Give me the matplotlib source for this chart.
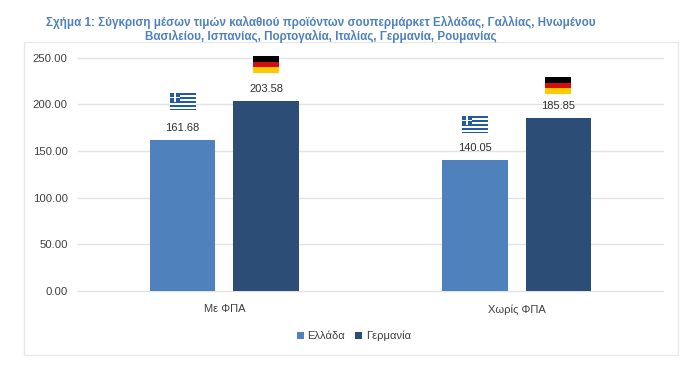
import matplotlib
matplotlib.use("Agg")
import matplotlib.pyplot as plt
import numpy as np
from matplotlib.offsetbox import AnnotationBbox, OffsetImage
from matplotlib.patches import Rectangle

plt.rcParams["font.family"] = ["Liberation Sans", "DejaVu Sans"]

categories = ["Με ΦΠΑ", "Χωρίς ΦΠΑ"]
greece = [161.68, 140.05]
germany = [203.58, 185.85]
series_names = ["Ελλάδα", "Γερμανία"]
y_ticks = [0, 50, 100, 150, 200, 250]
title = (
    "Σχήμα 1: Σύγκριση μέσων τιμών καλαθιού προϊόντων σουπερμάρκετ Ελλάδας, Γαλλίας, Ηνωμένου\n"
    "Βασιλείου, Ισπανίας, Πορτογαλία, Ιταλίας, Γερμανία, Ρουμανίας"
)


def greek_flag():
    blue = np.array([0.13, 0.36, 0.66])
    flag = np.ones((17, 26, 3))
    for row in range(17):
        if (row * 9 // 17) % 2 == 0:
            flag[row, :] = blue
    flag[:9, :10] = blue
    flag[4:5, :10] = 1
    flag[:9, 4:6] = 1
    return flag


def german_flag():
    flag = np.zeros((17, 26, 3))
    flag[6:11] = [0.85, 0.05, 0.05]
    flag[11:] = [1.0, 0.8, 0.0]
    return flag


def add_flag(ax, image, x, y, offset_px):
    box = OffsetImage(image, zoom=1, dpi_cor=False)
    flag = AnnotationBbox(
        box,
        (x, y),
        xybox=(0, offset_px * 72 / 100),
        xycoords="data",
        boxcoords="offset points",
        frameon=False,
        pad=0,
    )
    ax.add_artist(flag)


fig = plt.figure(figsize=(7, 3.72), dpi=100)
fig.patches.append(
    Rectangle(
        (24 / 700, 1 - 355 / 372),
        654 / 700,
        313 / 372,
        transform=fig.transFigure,
        facecolor="white",
        edgecolor="#e8e8e8",
        linewidth=1,
        zorder=-1,
    )
)
fig.text(321 / 700, 1 - 29.5 / 372, title, ha="center", va="center", color="#4f81bd",
         fontsize=8.33, fontweight="bold", linespacing=1.17)

ax = fig.add_axes([78 / 700, 1 - 291 / 372, 585 / 700, 233.3 / 372])
ax.patch.set_alpha(0)
x = np.arange(len(categories))
width = 0.224
offset = 0.1427
bars_gr = ax.bar(x - offset, greece, width, color="#4f81bd", label=series_names[0], zorder=3)
bars_de = ax.bar(x + offset, germany, width, color="#2c4d75", label=series_names[1], zorder=3)

for bars in (bars_gr, bars_de):
    ax.bar_label(bars, fmt="%.2f", padding=5, fontsize=8, color="#303030", zorder=4)

for xpos, val, shift in zip(x - offset, greece, [39, 35.5]):
    add_flag(ax, greek_flag(), xpos, val, shift)
for xpos, val, shift in zip(x + offset, germany, [37, 32.5]):
    add_flag(ax, german_flag(), xpos, val, shift)

ax.set_xlim(-0.5, 1.5)
ax.set_ylim(0, 250)
ax.set_xticks(x, categories)
ax.set_yticks(y_ticks, [f"{t:.2f}" for t in y_ticks])
ax.tick_params(axis="both", length=0, labelsize=8, labelcolor="#404040")
ax.tick_params(axis="x", pad=9.5)
ax.tick_params(axis="y", labelsize=8.2, pad=7.4)
ax.grid(axis="y", color="#e2e2e2", linewidth=1, zorder=0, clip_on=False)
ax.set_axisbelow(True)
for spine in ax.spines.values():
    spine.set_visible(False)

fig.legend(
    loc="center",
    bbox_to_anchor=(354 / 700, 1 - 336 / 372),
    ncol=2,
    frameon=False,
    fontsize=8,
    labelcolor="#404040",
    handlelength=0.63,
    handleheight=0.63,
    handletextpad=0.3,
    columnspacing=0.9,
)

fig.savefig("out.png", dpi=100)
